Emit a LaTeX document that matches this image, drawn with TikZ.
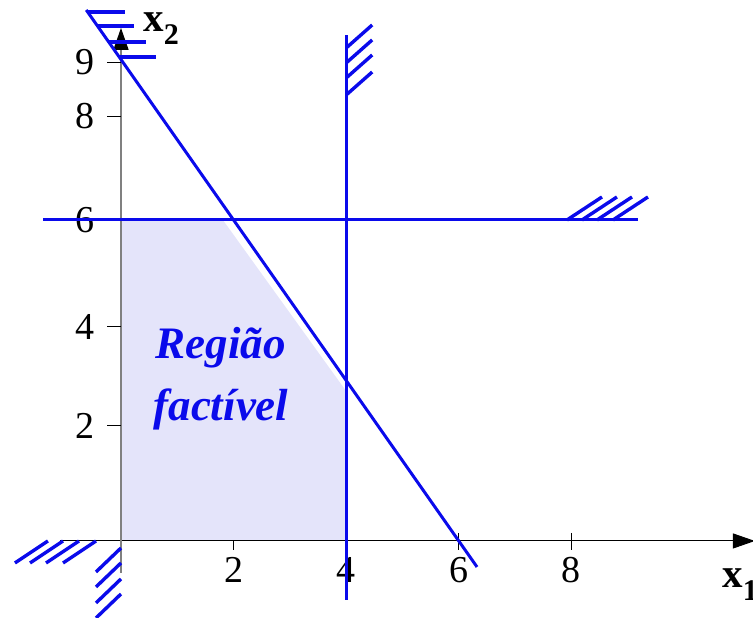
\documentclass[tikz,border=0pt]{standalone}
\usepackage{fontspec}
\setmainfont{Liberation Serif}
\usetikzlibrary{arrows.meta}
\definecolor{lblue}{RGB}{10,10,235}
\definecolor{lfill}{RGB}{228,228,250}
\definecolor{lgray}{RGB}{128,128,128}

\begin{document}
\begin{tikzpicture}[x=28.15pt, y=26.75pt,
  restr/.style={lblue, line width=1.5pt},
  hatch/.style={lblue, line width=1.7pt},
  numlab/.style={font=\fontsize{19}{20}\selectfont, inner sep=0pt},
  axlab/.style={font=\fontsize{20.5}{22}\selectfont\bfseries, anchor=base west, inner sep=0pt}]
 \useasboundingbox (-2.149,-1.439) rectangle (11.226,10.112);
 % ticks and numbers on x1
 \foreach \t in {2,4,6,8} \draw[line width=0.5pt] (\t,0.15) -- (\t,-0.17) node[numlab, below=3.5pt] (tx\t) {\t};
 % feasible region
 \fill[lfill] (0,0) -- (0,6) -- (1.81,6) -- (4,2.8) -- (4,0) -- cycle;
 % axes
 \draw[line width=0.5pt, -{Triangle[length=11pt,width=7.5pt]}] (-1.083,0) -- (11.26,0);
 \draw[lgray, line width=0.8pt, -{Triangle[length=11pt,width=7.5pt,color=black]}] (0,-0.6) -- (0,9.59);
 \foreach \l/\t in {2/2.15,4/4,6/6,8/7.94,9/8.95} \draw[line width=0.5pt] (0,\t) -- ++(-7pt,0) node[numlab, left=6pt] (ty\l) {\l};
 % constraints
 \draw[restr] (-0.617,9.925) -- (6.324,-0.486);
 \draw[restr] (4,-1.1) -- (4,9.46);
 \draw[restr] (-1.385,6) -- (9.183,6);
 % hatching
 \foreach \y in {9.888,9.626,9.327,9.047} \draw[hatch] ({(18-2*\y)/3},\y) -- ++(18.5pt,0);
 \foreach \y in {9.215,8.935,8.654,8.336} \draw[hatch] (4,\y) -- ++(13pt,11.5pt);
 \foreach \x in {7.922,8.188,8.455,8.739} \draw[hatch] (\x,6) -- ++(17.5pt,11.5pt);
 \foreach \x in {-1.297,-1.030,-0.746,-0.444} \draw[hatch] (\x,0) -- ++(-16.5pt,-11pt);
 \foreach \y in {-0.131,-0.411,-0.710,-0.991} \draw[hatch] (0,\y) -- ++(-12.5pt,-12pt);
 % labels
 \node[lblue, font=\fontsize{22.5}{31}\selectfont\bfseries\itshape, align=center] (regiao) at (1.776,3.04) {Região\\factível};
 \node[axlab] (xtwo) at (0.391,9.514) {x\raisebox{-6.5pt}{\fontsize{15}{16}\selectfont 2}};
 \node[axlab] (xone) at (10.675,-0.879) {x\raisebox{-6.5pt}{\fontsize{15}{16}\selectfont 1}};
\end{tikzpicture}
\end{document}
